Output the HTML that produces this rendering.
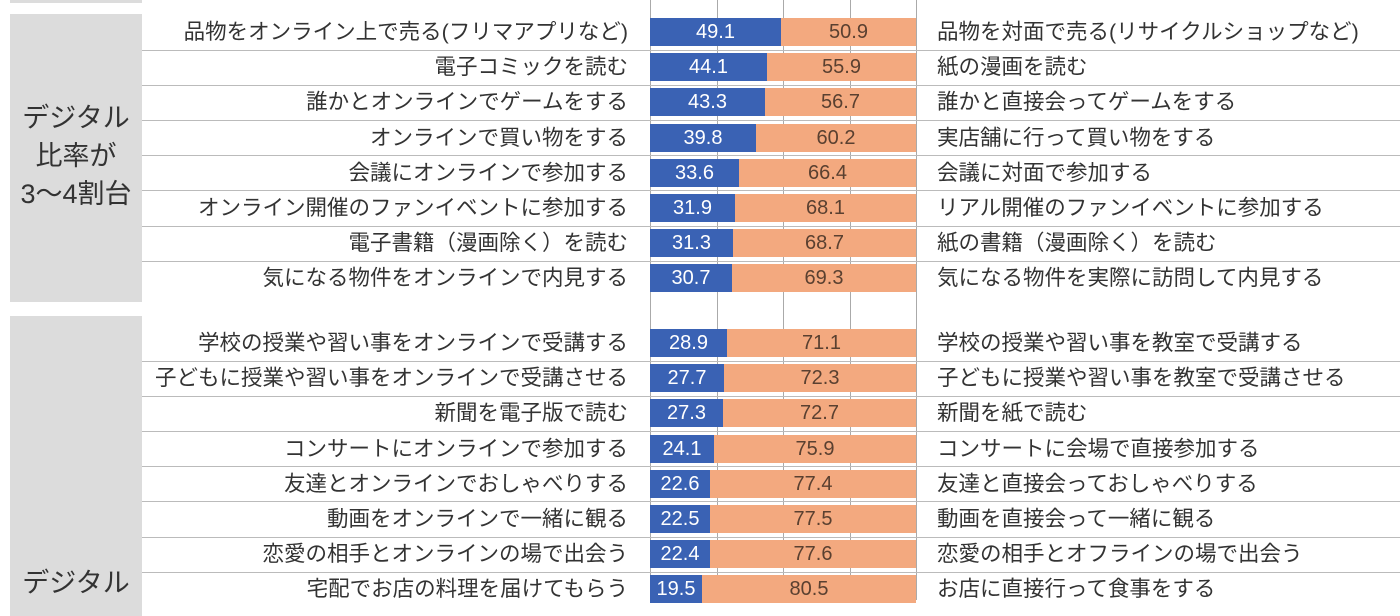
<!DOCTYPE html>
<html><head><meta charset="utf-8"><style>
body{margin:0;width:1400px;height:600px;overflow:hidden;background:#fff;position:relative;font-family:"Liberation Sans","Noto Sans CJK JP",sans-serif;color:#333}
.a{position:absolute}
.l{position:absolute;right:772px;font-size:21.5px;white-space:nowrap;line-height:28px}
.r{position:absolute;left:937px;font-size:21.5px;white-space:nowrap;line-height:28px}
.b{position:absolute;height:28px;line-height:28px;text-align:center;font-size:20px}
.bl{background:#3a62b4;color:#fff;left:650px}
.or{background:#f3a97f;color:#5a4030}
.h{position:absolute;left:142px;width:1258px;height:1px;background:#bbb}
.v{position:absolute;top:0;width:1px;height:600px;background:#aaa}
.g{position:absolute;background:#dcdcdc}
.t{position:absolute;font-size:27px;text-align:center;width:132px;line-height:38px;color:#333}
</style></head><body>
<div class="g" style="left:10px;top:-20px;width:132px;height:23px"></div>
<div class="g" style="left:10px;top:14px;width:132px;height:288px"></div>
<div class="g" style="left:10px;top:316px;width:132px;height:300px"></div>
<div class="t" style="left:10px;top:99px">デジタル<br>比率が<br>3〜4割台</div>
<div class="t" style="left:10px;top:564px">デジタル</div>
<div class="v" style="left:650px"></div><div class="v" style="left:717px"></div><div class="v" style="left:783px"></div><div class="v" style="left:850px"></div><div class="v" style="left:916px"></div>
<div id="c"></div>
<script>
var d=[["品物をオンライン上で売る(フリマアプリなど)",49.1,"品物を対面で売る(リサイクルショップなど)"],
["電子コミックを読む",44.1,"紙の漫画を読む"],
["誰かとオンラインでゲームをする",43.3,"誰かと直接会ってゲームをする"],
["オンラインで買い物をする",39.8,"実店舗に行って買い物をする"],
["会議にオンラインで参加する",33.6,"会議に対面で参加する"],
["オンライン開催のファンイベントに参加する",31.9,"リアル開催のファンイベントに参加する"],
["電子書籍（漫画除く）を読む",31.3,"紙の書籍（漫画除く）を読む"],
["気になる物件をオンラインで内見する",30.7,"気になる物件を実際に訪問して内見する"],
["学校の授業や習い事をオンラインで受講する",28.9,"学校の授業や習い事を教室で受講する"],
["子どもに授業や習い事をオンラインで受講させる",27.7,"子どもに授業や習い事を教室で受講させる"],
["新聞を電子版で読む",27.3,"新聞を紙で読む"],
["コンサートにオンラインで参加する",24.1,"コンサートに会場で直接参加する"],
["友達とオンラインでおしゃべりする",22.6,"友達と直接会っておしゃべりする"],
["動画をオンラインで一緒に観る",22.5,"動画を直接会って一緒に観る"],
["恋愛の相手とオンラインの場で出会う",22.4,"恋愛の相手とオフラインの場で出会う"],
["宅配でお店の料理を届けてもらう",19.5,"お店に直接行って食事をする"]];
var h="",W=266;
d.forEach(function(e,i){
 var y=i<8?32+35.2*i:343+35.2*(i-8);
 var t=y-14,bw=Math.round(W*e[1]/100);
 h+='<div class="l" style="top:'+t+'px">'+e[0]+'</div>';
 h+='<div class="r" style="top:'+t+'px">'+e[2]+'</div>';
 h+='<div class="b bl" style="top:'+t+'px;width:'+bw+'px">'+e[1].toFixed(1)+'</div>';
 h+='<div class="b or" style="top:'+t+'px;left:'+(650+bw)+'px;width:'+(W-bw)+'px">'+(100-e[1]).toFixed(1)+'</div>';
 if(i!=7&&i!=15)h+='<div class="h" style="top:'+Math.round(y+17.5)+'px"></div>';
});
document.getElementById("c").innerHTML=h;
</script>
</body></html>
